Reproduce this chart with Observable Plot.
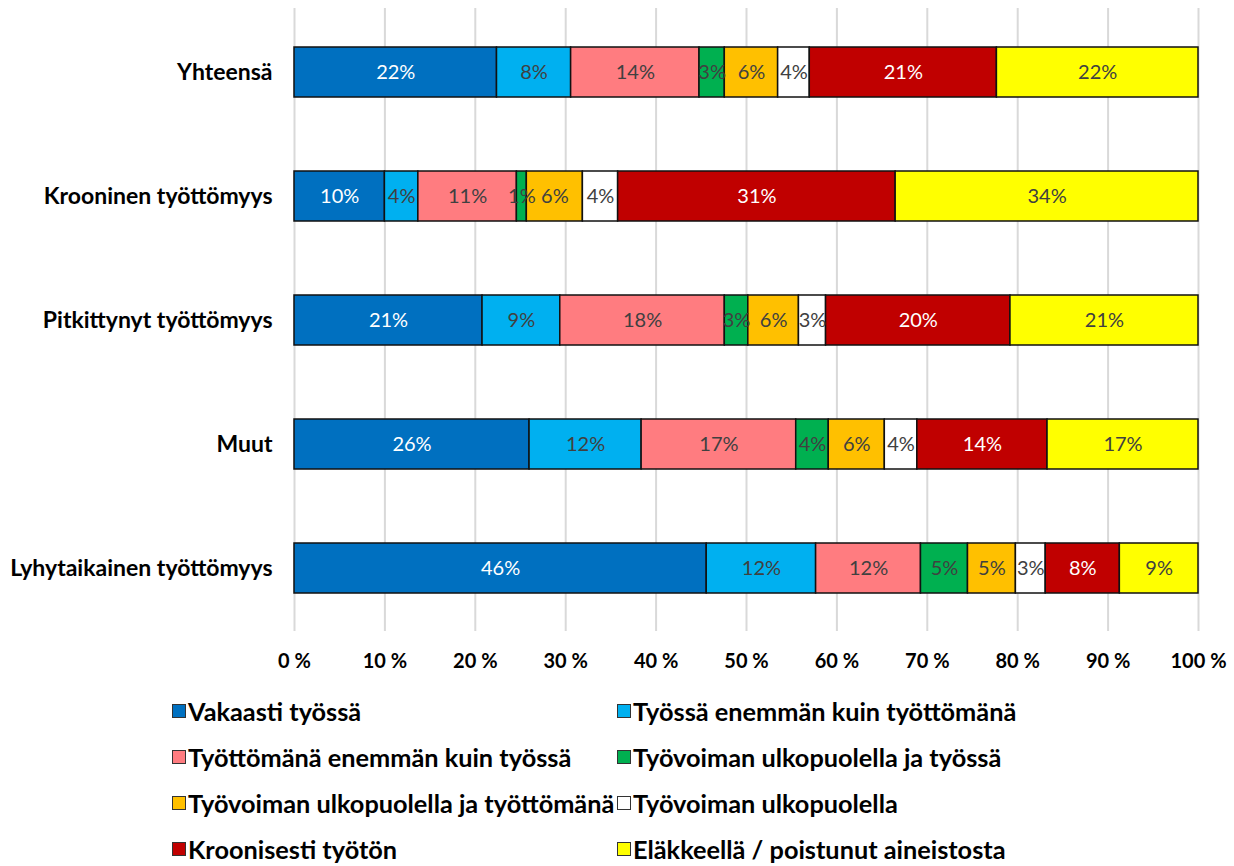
<!DOCTYPE html>
<html>
<head>
<meta charset="utf-8">
<script src="https://cdn.jsdelivr.net/npm/d3@7"></script>
<script src="https://cdn.jsdelivr.net/npm/@observablehq/plot@0.6"></script>
<style>
  body { margin: 0; background: #fff; font-family: Lato, "Open Sans", sans-serif; }
  #chart { width: 1234px; }
  .legend { display: grid; grid-template-columns: 445px 440px; margin-left: 172px; margin-top: 16px; row-gap: 0; }
  .item { display: flex; align-items: center; height: 46px; font-weight: bold; font-size: 25.3px; color: #000; white-space: nowrap; }
  .sw { width: 14px; height: 14px; border: 1.5px solid #333; margin-right: 2px; box-sizing: border-box; flex: none; }
</style>
</head>
<body>
<div id="chart"></div>
<script>
const categories = ["Yhteensä", "Krooninen työttömyys", "Pitkittynyt työttömyys", "Muut", "Lyhytaikainen työttömyys"];
const seriesNames = [
  "Vakaasti työssä",
  "Työssä enemmän kuin työttömänä",
  "Työttömänä enemmän kuin työssä",
  "Työvoiman ulkopuolella ja työssä",
  "Työvoiman ulkopuolella ja työttömänä",
  "Työvoiman ulkopuolella",
  "Kroonisesti työtön",
  "Eläkkeellä / poistunut aineistosta"
];
const seriesColors = ["#0070C0", "#00B0F0", "#FF7C80", "#00B050", "#FFC000", "#FFFFFF", "#C00000", "#FFFF00"];
const labelColors = ["#ffffff", "#404040", "#404040", "#404040", "#404040", "#404040", "#ffffff", "#404040"];
// values per series, aligned with categories (percent)
const vakaasti     = [22.4, 10.0, 20.8, 26.0, 45.6];
const tyossaEnemm  = [8.2, 3.7, 8.6, 12.4, 12.1];
const tyottEnemm   = [14.2, 10.9, 18.2, 17.1, 11.6];
const ulkoTyossa   = [2.8, 1.1, 2.6, 3.6, 5.2];
const ulkoTyott    = [5.9, 6.2, 5.6, 6.2, 5.3];
const ulko         = [3.5, 3.9, 3.0, 3.6, 3.3];
const kroonisesti  = [20.7, 30.7, 20.4, 14.4, 8.2];
const elakkeella   = [22.3, 33.5, 20.8, 16.7, 8.7];
const xTicks = [0, 10, 20, 30, 40, 50, 60, 70, 80, 90, 100];

const seriesValues = [vakaasti, tyossaEnemm, tyottEnemm, ulkoTyossa, ulkoTyott, ulko, kroonisesti, elakkeella];
const data = [];
categories.forEach((c, ci) => {
  seriesNames.forEach((s, si) => {
    data.push({category: c, series: s, si, value: seriesValues[si][ci]});
  });
});

const plot = Plot.plot({
  width: 1234,
  height: 672,
  marginLeft: 294,
  marginRight: 36,
  marginTop: 8,
  marginBottom: 41,
  style: {fontFamily: "Lato, 'Open Sans', sans-serif", background: "#fff"},
  x: {domain: [0, 100], ticks: xTicks, tickFormat: d => d + " %", tickSize: 0, tickPadding: 22, label: null},
  y: {domain: categories, paddingInner: 0.6, paddingOuter: 0.3, tickSize: 0, tickPadding: 22, label: null},
  color: {domain: seriesNames, range: seriesColors},
  marks: [
    Plot.ruleX(xTicks, {stroke: "#d9d9d9", strokeWidth: 2}),
    Plot.barX(data, Plot.stackX({x: "value", y: "category", fill: "series", order: null, stroke: "#111", strokeWidth: 1.5})),
    Plot.text(data, Plot.stackX({x: "value", y: "category", z: "series", order: null,
      text: d => Math.round(d.value) + "%",
      fill: d => labelColors[d.si], fontSize: 20})),
    Plot.axisX({ticks: xTicks, tickFormat: d => d + " %", tickSize: 0, tickPadding: 22, fontSize: 20, fontWeight: "bold", fill: "#000"}),
    Plot.axisY({tickSize: 0, tickPadding: 22, fontSize: 23, fontWeight: "bold", fill: "#000"})
  ]
});
document.getElementById("chart").appendChild(plot);

const legend = document.createElement("div");
legend.className = "legend";
seriesNames.forEach((s, i) => {
  const it = document.createElement("div");
  it.className = "item";
  const sw = document.createElement("span");
  sw.className = "sw";
  sw.style.background = seriesColors[i];
  it.appendChild(sw);
  it.appendChild(document.createTextNode(s));
  legend.appendChild(it);
});
document.getElementById("chart").appendChild(legend);
</script>
</body>
</html>
